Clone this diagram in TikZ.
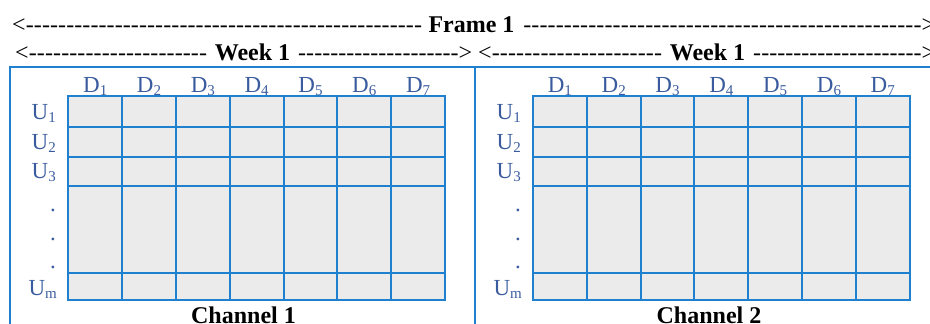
\documentclass[tikz,border=0pt]{standalone}
\usepackage{fontspec}
\setmainfont{Liberation Serif}[Ligatures=TeXOff, BoldFont={Liberation Serif Bold}]
\definecolor{labelblue}{HTML}{3A5C9E}
\definecolor{gridblue}{HTML}{1F80D0}
\definecolor{cellgray}{HTML}{EBEBEB}
% label with a lowered subscript
\newcommand\sublabel[2]{#1\raisebox{-3pt}{\fontsize{15}{15}\selectfont #2}}
% dashed arrow halves made of hyphens
\newcommand\dashL[1]{\hbox to #1{<\xleaders\hbox{-}\hfill}}
\newcommand\dashR[1]{\hbox to #1{\xleaders\hbox{-}\hfill>}}
\tikzset{
  lbl/.style={text=labelblue, font=\fontsize{23}{23}\selectfont, inner sep=0pt},
  head/.style={font=\bfseries\fontsize{24}{24}\selectfont, inner sep=0pt, anchor=base},
  dashrun/.style={font=\fontsize{24}{24}\selectfont, inner sep=0pt, anchor=base west},
  gridline/.style={draw=gridblue, line width=2pt},
  framebox/.style={draw=gridblue, line width=2pt},
}
\begin{document}
\begin{tikzpicture}[x=1pt, y=-1pt]
\useasboundingbox (0,0) rectangle (930,324);

% Frame span
\node[dashrun] (frameL) at (12,32) {\dashL{410pt}};
\node[head] (frame) at (471.5,32) {Frame 1};
\node[dashrun] (frameR) at (523,32) {\dashR{412pt}};

% Week spans
\node[dashrun] (weekAL) at (15,60) {\dashL{192pt}};
\node[head] (weekA) at (252.5,60) {Week 1};
\node[dashrun] (weekAR) at (298,60) {\dashR{174pt}};
\node[dashrun] (weekBL) at (478,60) {\dashL{184pt}};
\node[head] (weekB) at (707.5,60) {Week 1};
\node[dashrun] (weekBR) at (753,60) {\dashR{182pt}};

% outer frame and channel divider
\coordinate (tl) at (10,67);
\coordinate (tr) at (935,67);
\coordinate (bl) at (10,330);
\coordinate (dt) at (475,67);
\coordinate (db) at (475,330);
\draw[framebox] (bl) -- (tl) -- (tr);
\draw[framebox] (dt) -- (db);

% channel grids
\foreach \gx/\ux/\ch/\cx in {68.3/56/1/243.5, 533/521/2/709}{
  \fill[cellgray] (\gx,96) rectangle (\gx+376.7,299.5);
  \foreach \k in {0,...,7}
    \draw[gridline] (\gx+\k*53.81,96) -- (\gx+\k*53.81,299.5);
  \foreach \ry in {96,127,156.5,186,272.5,299.5}
    \draw[gridline] (\gx-1,\ry) -- (\gx+377.7,\ry);
  \foreach \k in {1,...,7}
    \node[lbl, anchor=base] (d\ch\k) at (\gx+\k*53.81-26.9,92) {\sublabel{D}{\k}};
  \node[lbl, anchor=base east] (u\ch a) at (\ux,119) {\sublabel{U}{1}};
  \node[lbl, anchor=base east] (u\ch b) at (\ux,149) {\sublabel{U}{2}};
  \node[lbl, anchor=base east] (u\ch c) at (\ux,178) {\sublabel{U}{3}};
  \node[lbl, anchor=base east] (u\ch m) at (\ux+1,295) {\sublabel{U}{m}};
  \foreach \dy [count=\i] in {211,240,268}
    \node[lbl, anchor=base] (dot\ch\i) at (\ux-3,\dy) {.};
  \node[head] (chan\ch) at (\cx,323) {Channel \ch};
}
\end{tikzpicture}
\end{document}
